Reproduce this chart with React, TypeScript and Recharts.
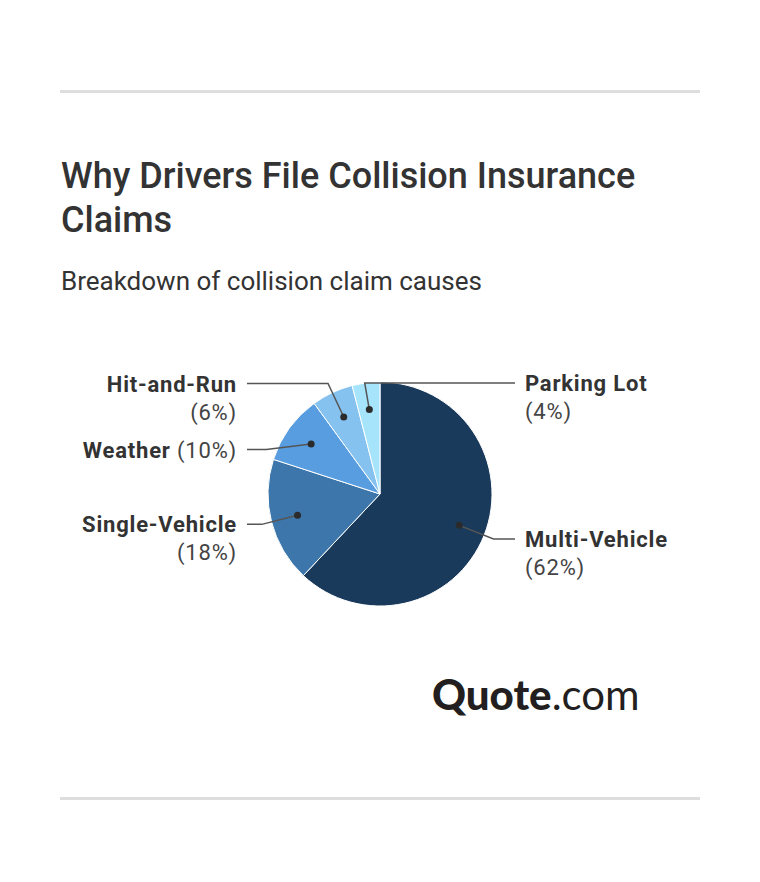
import { Cell, Pie, PieChart } from "recharts";

const causes = ["Multi-Vehicle", "Single-Vehicle", "Weather", "Hit-and-Run", "Parking Lot"];
const shares = [62, 18, 10, 6, 4];
const sliceColors = ["#1a3a5c", "#3d76aa", "#579de0", "#86c2ef", "#a6e4fc"];

const data = causes.map((name, i) => ({ name, value: shares[i] }));

const CX = 380;
const CY = 494;
const R = 112;
const RING = R * 1.09;
const RAD = Math.PI / 180;
const LINE_H = 28;

// label layout: natural spot on a ring just outside the pie, then stacked top-down per side
function buildLayout() {
  const total = shares.reduce((a, b) => a + b, 0);
  let acc = 0;
  const items = shares.map((v, i) => {
    const mid = 90 - ((acc + v / 2) / total) * 360;
    acc += v;
    const ex = CX + Math.cos(-mid * RAD) * RING;
    const ey = CY + Math.sin(-mid * RAD) * RING;
    const oneLine = (causes[i] + " (" + v + "%)").length <= 13;
    return { i, mid, ex, ey, y: Math.max(ey, CY - R + 1), lines: oneLine ? 1 : 2, right: ex > CX - R * 0.15 };
  });
  [true, false].forEach((side) => {
    const list = items.filter((d) => d.right === side).sort((a, b) => a.y - b.y);
    let floor = -Infinity;
    list.forEach((d) => {
      if (d.y < floor) {
        d.y = floor;
        const dy = d.y - CY;
        d.ex = CX + (side ? 1 : -1) * Math.sqrt(Math.max(RING * RING - dy * dy, 0));
      }
      floor = d.y + d.lines * LINE_H + 10;
    });
  });
  return items;
}

const layout = buildLayout();

function renderLabel(props: any) {
  const { cx, cy, midAngle, outerRadius, index } = props;
  const l = layout[index];
  const dx = cx + Math.cos(-midAngle * RAD) * outerRadius * 0.76;
  const dy = cy + Math.sin(-midAngle * RAD) * outerRadius * 0.76;
  const endX = l.right ? cx + outerRadius + 23 : cx - outerRadius - 21;
  const textX = l.right ? endX + 10 : endX - 10;
  const anchor = l.right ? "start" : "end";
  const pct = "(" + shares[index] + "%)";
  const textStyle = { letterSpacing: 0.8 };
  return (
    <g key={"lbl" + index}>
      <polyline
        points={`${dx},${dy} ${l.ex},${l.y} ${endX},${l.y}`}
        fill="none"
        stroke="#555"
        strokeWidth={1.5}
      />
      <circle cx={dx} cy={dy} r={3.5} fill="#2b2b2b" />
      {l.lines === 1 ? (
        <text x={textX} y={l.y} textAnchor={anchor} dominantBaseline="central" fontSize={22} fill="#333" style={textStyle}>
          <tspan fontWeight={700}>{causes[index]}</tspan>
          <tspan fill="#444"> {pct}</tspan>
        </text>
      ) : (
        <text x={textX} y={l.y} textAnchor={anchor} dominantBaseline="central" fontSize={22} fill="#333" style={textStyle}>
          <tspan x={textX} fontWeight={700}>{causes[index]}</tspan>
          <tspan x={textX} dy={LINE_H} fill="#444">{pct}</tspan>
        </text>
      )}
    </g>
  );
}

export default function App() {
  return (
    <div style={{ position: "relative", width: 760, height: 882, background: "#fff", fontFamily: "Roboto, sans-serif", color: "#333" }}>
      <style>{`body{margin:0}`}</style>
      <div style={{ position: "absolute", left: 60, top: 90, width: 640, height: 3, background: "#dedede" }} />
      <div style={{ position: "absolute", left: 60, top: 797, width: 640, height: 3, background: "#dedede" }} />
      <div style={{ position: "absolute", left: 61, top: 154, width: 640, fontSize: 36, fontWeight: 500, lineHeight: "44px" }}>
        Why Drivers File Collision Insurance Claims
      </div>
      <div style={{ position: "absolute", left: 61, top: 266, fontSize: 26, lineHeight: "30px" }}>
        Breakdown of collision claim causes
      </div>
      <div style={{ position: "absolute", left: 0, top: 0 }}>
        <PieChart width={760} height={882} margin={{ top: 0, right: 0, bottom: 0, left: 0 }}>
          <Pie
            data={data}
            dataKey="value"
            nameKey="name"
            cx={CX}
            cy={CY}
            outerRadius={R}
            startAngle={90}
            endAngle={-270}
            stroke="#fff"
            strokeWidth={1}
            label={renderLabel}
            labelLine={false}
            isAnimationActive={false}
          >
            {data.map((d, i) => (
              <Cell key={d.name} fill={sliceColors[i]} />
            ))}
          </Pie>
        </PieChart>
      </div>
      <div style={{ position: "absolute", left: 432, top: 670, fontFamily: "Lato, sans-serif", fontSize: 42, color: "#231f20", lineHeight: "48px" }}>
        <span style={{ fontWeight: 900 }}>Quote</span>
        <span style={{ fontWeight: 400 }}>.com</span>
      </div>
    </div>
  );
}
